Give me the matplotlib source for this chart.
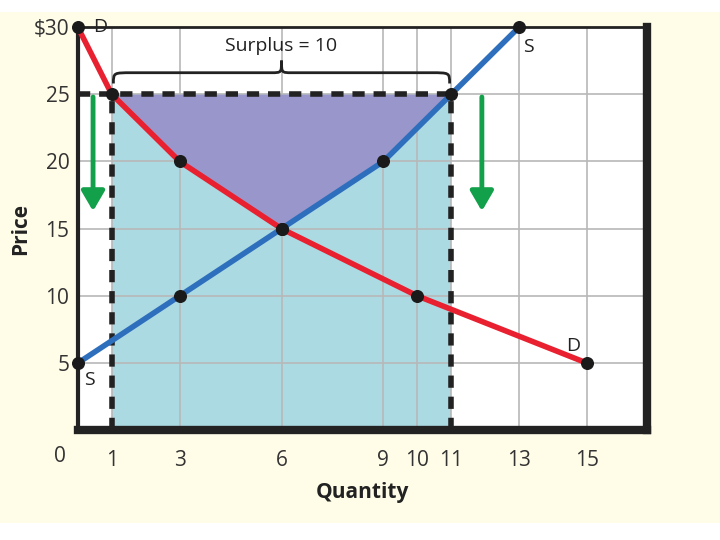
import matplotlib
matplotlib.use('Agg')
import matplotlib.pyplot as plt
from matplotlib.path import Path
from matplotlib.patches import PathPatch, Rectangle
import numpy as np

# demand and supply schedules
demand_q = [0, 1, 3, 6, 10, 15]
demand_p = [30, 25, 20, 15, 10, 5]
supply_q = [0, 3, 6, 9, 11, 13]
supply_p = [5, 10, 15, 20, 25, 30]

price_floor = 25
qd_floor = 1
qs_floor = 11
surplus = qs_floor - qd_floor

x_ticks = [1, 3, 6, 9, 10, 11, 13, 15]
y_ticks = [5, 10, 15, 20, 25, 30]
y_ticklabels = ['5', '10', '15', '20', '25', '$30']

plt.rcParams['font.family'] = ['Open Sans', 'DejaVu Sans']

fig = plt.figure(figsize=(7.2, 5.4), dpi=100, facecolor='white')
fig.patches.append(Rectangle((0, 0.032), 1, 0.946, transform=fig.transFigure,
                             facecolor='#fffce8', edgecolor='none', zorder=-10))
ax = fig.add_axes([0.108, 0.203, 0.79, 0.747])
ax.set_facecolor('white')

ax.set_xlim(0, 16.75)
ax.set_ylim(0, 30)

ax.set_xticks(x_ticks)
ax.set_yticks(y_ticks)
ax.set_yticklabels(y_ticklabels)
ax.grid(True, color='#b8b8b8', linewidth=1.2, zorder=0)
ax.tick_params(length=0, labelsize=15, colors='#333333')
ax.tick_params(axis='x', pad=14)
ax.tick_params(axis='y', pad=6)
ax.annotate('0', xy=(0, 0), xytext=(-13, -19), textcoords='offset points',
            fontsize=15, color='#333333', ha='center', va='center')

# consumer region / producer region
ax.fill_between([qd_floor, qs_floor], 0, price_floor, color='#acdae2', zorder=1, linewidth=0)
qq = np.linspace(qd_floor, qs_floor, 200)
d_interp = np.interp(qq, demand_q, demand_p)
s_interp = np.interp(qq, supply_q, supply_p)
ax.fill_between(qq, np.maximum(d_interp, s_interp), price_floor, color='#9996cb',
                zorder=2, linewidth=0)

# dashed floor lines
ax.plot([0, qs_floor], [price_floor, price_floor], color='#222222', lw=4,
        dashes=(2.2, 1.6), zorder=3)
ax.plot([qd_floor, qd_floor], [0, price_floor], color='#222222', lw=4,
        dashes=(2.2, 1.6), zorder=3)
ax.plot([qs_floor, qs_floor], [0, price_floor], color='#222222', lw=4,
        dashes=(2.2, 1.6), zorder=3)

ax.plot(demand_q, demand_p, color='#e8202f', lw=4, zorder=4, solid_capstyle='round')
ax.plot(supply_q, supply_p, color='#2e6fbd', lw=4, zorder=4, solid_capstyle='round')
ax.scatter(demand_q, demand_p, s=70, color='#1a1a1a', zorder=5, clip_on=False)
ax.scatter(supply_q, supply_p, s=70, color='#1a1a1a', zorder=5, clip_on=False)

# curve labels
ax.text(0.45, 30, 'D', fontsize=14, color='#222222', va='center', ha='left', zorder=6)
ax.text(13.1, 29.2, 'S', fontsize=14, color='#222222', va='top', ha='left', zorder=6)
ax.text(14.8, 5.6, 'D', fontsize=14, color='#222222', va='bottom', ha='right', zorder=6)
ax.text(0.2, 4.4, 'S', fontsize=14, color='#222222', va='top', ha='left', zorder=6)

# green arrows showing downward pressure on price
for xa in [0.45, 11.9]:
    ax.annotate('', xy=(xa, 16.1), xytext=(xa, price_floor),
                arrowprops=dict(arrowstyle='-|>,head_width=0.7,head_length=1.2',
                                color='#12a04a', lw=3.5), zorder=6)

# curly brace over the surplus
yb, yh, yt = 26.6, 25.8, 27.5
mid = (qd_floor + qs_floor) / 2
r = 0.6
verts = [(qd_floor + 0.05, yh),
         (qd_floor + 0.05, yb), (qd_floor + 0.05, yb), (qd_floor + r, yb),
         (mid - 0.3, yb),
         (mid, yb), (mid, yb), (mid, yt),
         (mid, yb), (mid, yb), (mid + 0.3, yb),
         (qs_floor - r, yb),
         (qs_floor - 0.05, yb), (qs_floor - 0.05, yb), (qs_floor - 0.05, yh)]
codes = [Path.MOVETO,
         Path.CURVE4, Path.CURVE4, Path.CURVE4,
         Path.LINETO,
         Path.CURVE4, Path.CURVE4, Path.CURVE4,
         Path.CURVE4, Path.CURVE4, Path.CURVE4,
         Path.LINETO,
         Path.CURVE4, Path.CURVE4, Path.CURVE4]
ax.add_patch(PathPatch(Path(verts, codes), facecolor='none', edgecolor='#222222',
                       lw=2, zorder=6))
ax.text(mid, 28.6, 'Surplus = %d' % surplus, fontsize=14, color='#222222',
        ha='center', va='center', zorder=6)

for side, w in [('left', 3), ('bottom', 6), ('right', 6), ('top', 2)]:
    ax.spines[side].set_linewidth(w)
    ax.spines[side].set_color('#222222')

ax.set_xlabel('Quantity', fontsize=15, fontweight='bold', color='#222222', labelpad=8)
ax.set_ylabel('Price', fontsize=15, fontweight='bold', color='#222222', labelpad=2)

plt.savefig('out.png', dpi=100, facecolor=fig.get_facecolor())
plt.close()
